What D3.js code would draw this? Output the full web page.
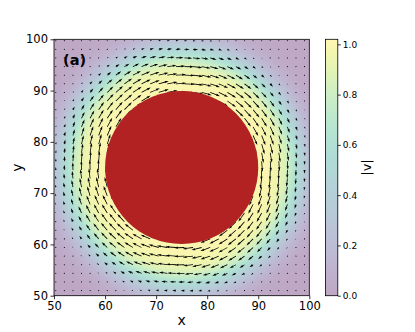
<!DOCTYPE html>
<html>
<head>
<meta charset="utf-8">
<script src="https://cdn.jsdelivr.net/npm/d3@7"></script>
<style>
  body { margin: 0; background: #fff; }
  text { font-family: "DejaVu Sans", sans-serif; }
</style>
</head>
<body>
<div id="chart"></div>
<script>
// axis ticks
var xTicks = [50, 60, 70, 80, 90, 100];
var yTicks = [50, 60, 70, 80, 90, 100];
var cbTicks = [0.0, 0.2, 0.4, 0.6, 0.8, 1.0];

// obstacle (centre and radius, data units)
var obstacleCenter = [75, 75];
var obstacleRadius = 15;

// radial speed profile |v|(r)
var profileR     = [15,   16,   17,   18,   19,   20,   21,   22,   23,   24,   25,   26,   27,   28,   30,   33,   40];
var profileSpeed = [1.00, 1.00, 0.99, 0.97, 0.94, 0.88, 0.78, 0.65, 0.50, 0.36, 0.24, 0.15, 0.09, 0.05, 0.02, 0.01, 0.00];

// quiver sample positions (data units)
var quiverX = [50.35, 52.03, 53.71, 55.39, 57.07, 58.75, 60.43, 62.11, 63.79, 65.47, 67.15, 68.83, 70.51, 72.19, 73.87,
               75.55, 77.23, 78.91, 80.59, 82.27, 83.95, 85.63, 87.31, 88.99, 90.67, 92.35, 94.03, 95.71, 97.39, 99.07];
var quiverY = [51.00, 52.68, 54.36, 56.04, 57.72, 59.40, 61.08, 62.76, 64.44, 66.12, 67.80, 69.48, 71.16, 72.84, 74.52,
               76.20, 77.88, 79.56, 81.24, 82.92, 84.60, 86.28, 87.96, 89.64, 91.32, 93.00, 94.68, 96.36, 98.04, 99.72];

var vmax = 1.02;
var alpha = 0.35;

var svg = d3.select("#chart").append("svg")
    .attr("width", 415)
    .attr("height", 332);

var plot = { left: 54, right: 309.3, top: 39.3, bottom: 295.7 };

var x = d3.scaleLinear().domain([50, 100]).range([plot.left, plot.right]);
var y = d3.scaleLinear().domain([50, 100]).range([plot.bottom, plot.top]);
var speedAt = d3.scaleLinear().domain(profileR).range(profileSpeed).clamp(true);
var color = d3.scaleSequential(d3.interpolateViridis).domain([0, vmax]);

function speed(px, py) {
    var r = Math.hypot(px - obstacleCenter[0], py - obstacleCenter[1]);
    return speedAt(r);
}

svg.append("defs").append("clipPath").attr("id", "clip")
    .append("rect")
    .attr("x", plot.left).attr("y", plot.top)
    .attr("width", plot.right - plot.left).attr("height", plot.bottom - plot.top);

// background field |v|
var nCells = 128;
var cells = [];
var step = 50 / nCells;
for (var i = 0; i < nCells; i++) {
    for (var j = 0; j < nCells; j++) {
        var cx = 50 + (i + 0.5) * step, cy = 50 + (j + 0.5) * step;
        cells.push({ x0: 50 + i * step, y0: 50 + j * step, v: speed(cx, cy) });
    }
}

var heat = svg.append("g").attr("opacity", alpha).attr("clip-path", "url(#clip)");
heat.selectAll("rect")
    .data(cells)
    .enter().append("rect")
    .attr("x", function(d) { return x(d.x0); })
    .attr("y", function(d) { return y(d.y0 + step); })
    .attr("width", x(50 + step) - x(50) + 0.6)
    .attr("height", y(50) - y(50 + step) + 0.6)
    .attr("fill", function(d) { return color(d.v); });

// quiver arrows (matplotlib-like shape, tail pivot)
var shaftW = 0.8;       // px
var arrowScale = 10.5;  // px per unit speed
var arrows = [];
quiverX.forEach(function(qx) {
    quiverY.forEach(function(qy) {
        var dx = qx - obstacleCenter[0], dy = qy - obstacleCenter[1];
        var r = Math.hypot(dx, dy);
        var s = speedAt(r);
        // clockwise swirl: v = (dy, -dx)/r
        var vx = dy / r, vy = -dx / r;
        arrows.push({ x: qx, y: qy, len: s * arrowScale, ang: Math.atan2(-vy, vx) * 180 / Math.PI });
    });
});

function arrowPath(len) {
    var L = len / shaftW;
    var pts;
    if (L < 1.5) {
        pts = d3.range(6).map(function(k) {
            var t = k * Math.PI / 3;
            return [0.75 * Math.cos(t), 0.75 * Math.sin(t)];
        });
    } else if (L < 5) {
        var k = L / 5;
        pts = [[0, -0.5], [0.5, -0.5], [0, -1.5], [5, 0], [0, 1.5], [0.5, 0.5], [0, 0.5]]
            .map(function(p) { return [p[0] * k, p[1] * k]; });
    } else {
        pts = [[0, -0.5], [L - 4.5, -0.5], [L - 5, -1.5], [L, 0], [L - 5, 1.5], [L - 4.5, 0.5], [0, 0.5]];
    }
    return "M" + pts.map(function(p) { return (p[0] * shaftW).toFixed(2) + "," + (p[1] * shaftW).toFixed(2); }).join("L") + "Z";
}

svg.append("g").attr("clip-path", "url(#clip)")
    .selectAll("path")
    .data(arrows)
    .enter().append("path")
    .attr("transform", function(d) { return "translate(" + x(d.x) + "," + y(d.y) + ") rotate(" + d.ang + ")"; })
    .attr("d", function(d) { return arrowPath(d.len); })
    .attr("fill", "#000");

// obstacle
svg.append("circle")
    .attr("cx", x(obstacleCenter[0]))
    .attr("cy", y(obstacleCenter[1]))
    .attr("r", x(obstacleCenter[0] + obstacleRadius) - x(obstacleCenter[0]))
    .attr("fill", "#b22222");

// axes
var xAxis = svg.append("g")
    .attr("transform", "translate(0," + plot.bottom + ")")
    .call(d3.axisBottom(x).tickValues(xTicks).tickSize(3.5).tickPadding(2.5));
var yAxis = svg.append("g")
    .attr("transform", "translate(" + plot.left + ",0)")
    .call(d3.axisLeft(y).tickValues(yTicks).tickSize(3.5).tickPadding(2.5));
[xAxis, yAxis].forEach(function(a) {
    a.select(".domain").remove();
    a.selectAll("text").attr("font-size", 11.5).attr("fill", "#000").attr("font-family", "DejaVu Sans");
    a.selectAll("line").attr("stroke", "#000").attr("stroke-width", 0.8);
});

svg.append("rect")
    .attr("x", plot.left).attr("y", plot.top)
    .attr("width", plot.right - plot.left).attr("height", plot.bottom - plot.top)
    .attr("fill", "none").attr("stroke", "#000").attr("stroke-width", 0.8);

svg.append("text")
    .attr("x", (plot.left + plot.right) / 2).attr("y", 325)
    .attr("text-anchor", "middle").attr("font-size", 14)
    .text("x");
svg.append("text")
    .attr("transform", "translate(22," + ((plot.top + plot.bottom) / 2) + ") rotate(-90)")
    .attr("text-anchor", "middle").attr("font-size", 14)
    .text("y");

svg.append("text")
    .attr("x", 63).attr("y", 65)
    .attr("font-size", 14.5).attr("font-weight", "bold")
    .text("(a)");

// colorbar
var cb = { left: 325.5, right: 337.8 };
var cbY = d3.scaleLinear().domain([0, vmax]).range([plot.bottom, plot.top]);
var grad = svg.select("defs").append("linearGradient")
    .attr("id", "cbgrad").attr("x1", 0).attr("y1", 1).attr("x2", 0).attr("y2", 0);
d3.range(0, 1.0001, 0.05).forEach(function(t) {
    grad.append("stop").attr("offset", t).attr("stop-color", color(t * vmax));
});
svg.append("rect")
    .attr("x", cb.left).attr("y", plot.top)
    .attr("width", cb.right - cb.left).attr("height", plot.bottom - plot.top)
    .attr("fill", "url(#cbgrad)").attr("opacity", alpha);
svg.append("rect")
    .attr("x", cb.left).attr("y", plot.top)
    .attr("width", cb.right - cb.left).attr("height", plot.bottom - plot.top)
    .attr("fill", "none").attr("stroke", "#000").attr("stroke-width", 0.8);

var cbAxis = svg.append("g")
    .attr("transform", "translate(" + cb.right + ",0)")
    .call(d3.axisRight(cbY).tickValues(cbTicks).tickFormat(d3.format(".1f")).tickSize(3).tickPadding(2));
cbAxis.select(".domain").remove();
cbAxis.selectAll("text").attr("font-size", 9).attr("fill", "#000").attr("font-family", "DejaVu Sans");
cbAxis.selectAll("line").attr("stroke", "#000").attr("stroke-width", 0.8);

svg.append("text")
    .attr("transform", "translate(371," + ((plot.top + plot.bottom) / 2) + ") rotate(-90)")
    .attr("text-anchor", "middle").attr("font-size", 13)
    .text("|v|");
</script>
</body>
</html>
